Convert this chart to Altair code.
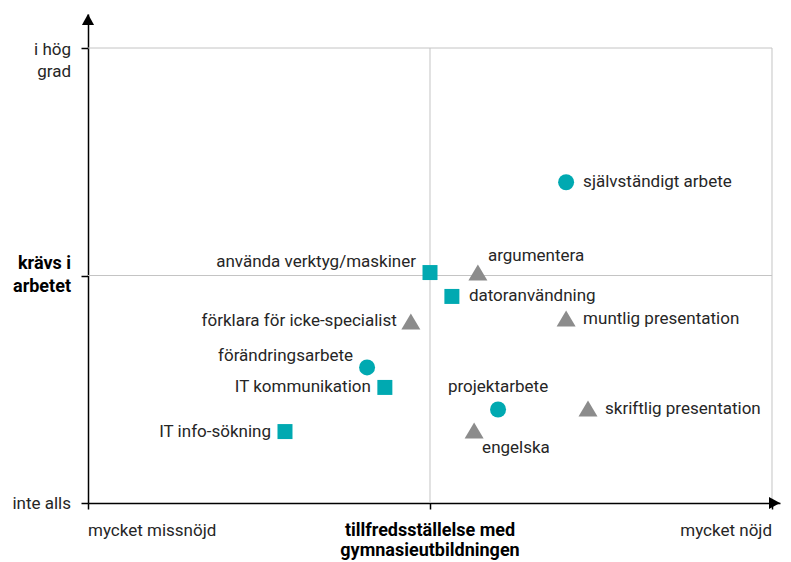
import altair as alt
import pandas as pd

# ---- data ----
skills = [
    "självständigt arbete", "använda verktyg/maskiner", "argumentera",
    "datoranvändning", "förklara för icke-specialist", "muntlig presentation",
    "förändringsarbete", "IT kommunikation", "projektarbete",
    "skriftlig presentation", "IT info-sökning", "engelska",
]
satisfaction = [0.398, 0.0, 0.14, 0.064, -0.056, 0.398, -0.184, -0.132, 0.199, 0.462, -0.424, 0.129]
required = [0.41, 0.013, 0.013, -0.092, -0.202, -0.189, -0.404, -0.492, -0.589, -0.585, -0.686, -0.681]
group = ["circle", "square", "triangle", "square", "triangle", "triangle",
         "circle", "square", "circle", "triangle", "square", "triangle"]
label_anchor = ["right", "upper-left", "upper-right", "right", "left", "right",
                "upper-left", "left", "above", "right", "left", "below-right"]

y_tick_values = [1, 0, -1]
y_tick_labels = [["i hög", "grad"], ["krävs i", "arbetet"], ["inte alls"]]
x_tick_values = [-1, 0, 1]
x_tick_labels = [["mycket missnöjd"], ["tillfredsställelse med", "gymnasieutbildningen"], ["mycket nöjd"]]

X_MIN, X_MAX = -1, 1.0234
Y_MIN, Y_MAX = -1, 1.1495

FONT = "Roboto"
FS = 17
FSB = 18
TXT = "#262626"
TEAL = "#00a9b1"
GRAY = "#8c8c8c"
TRIANGLE = "M0,-0.84L1,0.84L-1,0.84Z"

df = pd.DataFrame({"skill": skills, "x": satisfaction, "y": required,
                   "group": group, "anchor": label_anchor})

xscale = alt.Scale(domain=[X_MIN, X_MAX], nice=False, zero=False)
yscale = alt.Scale(domain=[Y_MIN, Y_MAX], nice=False, zero=False)

xaxis = alt.Axis(values=[-1, 0, 1], labels=False, title=None, grid=False,
                 domainColor="black", domainWidth=1.5, tickColor="black",
                 tickWidth=1.5, tickSize=6)
yaxis = alt.Axis(values=[-1, 0, 1], labels=False, title=None, grid=False,
                 domainColor="black", domainWidth=1.5, tickColor="black",
                 tickWidth=1.5, tickSize=7)

one = pd.DataFrame({"a": [0]})

# grid lines inside the box
grid_v = alt.Chart(pd.DataFrame({"g": [0, 1]})).mark_rule(color="#c4c4c4", strokeWidth=1).encode(
    x=alt.X("g:Q", scale=xscale, axis=xaxis),
    y=alt.Y(datum=-1, scale=yscale, axis=yaxis),
    y2=alt.datum(1),
)
grid_h = alt.Chart(pd.DataFrame({"g": [0, 1]})).mark_rule(color="#c4c4c4", strokeWidth=1).encode(
    y=alt.Y("g:Q", scale=yscale),
    x=alt.X(datum=-1, scale=xscale),
    x2=alt.datum(1),
)

# arrow heads
arrow_up = alt.Chart(one).mark_point(
    shape="M0,0L0.55,1L-0.55,1Z", filled=True, size=484, color="black", opacity=1
).encode(x=alt.X(datum=-1, scale=xscale), y=alt.Y(datum=Y_MAX, scale=yscale))
arrow_right = alt.Chart(one).mark_point(
    shape="M0,0L-1,-0.55L-1,0.55Z", filled=True, size=484, color="black", opacity=1
).encode(x=alt.X(datum=X_MAX, scale=xscale), y=alt.Y(datum=-1, scale=yscale))

# points, one layer per symbol
symbol_style = {
    "circle": ("circle", TEAL, 256),
    "square": ("square", TEAL, 225),
    "triangle": (TRIANGLE, GRAY, 361),
}
point_layers = []
for name, (shp, col, sz) in symbol_style.items():
    point_layers.append(
        alt.Chart(df).transform_filter(alt.datum.group == name).mark_point(
            shape=shp, color=col, size=sz, filled=True, opacity=1
        ).encode(x=alt.X("x:Q", scale=xscale), y=alt.Y("y:Q", scale=yscale))
    )

# point labels
anchor_style = {
    "right": ("left", 17, 0),
    "left": ("right", -14, 0),
    "upper-left": ("right", -14, -11),
    "upper-right": ("left", 10, -17),
    "above": ("center", 0, -22),
    "below-right": ("left", 8, 18),
}
label_layers = []
for name, (al, dx, dy) in anchor_style.items():
    label_layers.append(
        alt.Chart(df).transform_filter(alt.datum.anchor == name).mark_text(
            align=al, baseline="middle", dx=dx, dy=dy, font=FONT, fontSize=FS, color=TXT
        ).encode(x=alt.X("x:Q", scale=xscale), y=alt.Y("y:Q", scale=yscale), text="skill:N")
    )

# axis labels (y)
ydf = pd.DataFrame({"v": y_tick_values, "t": y_tick_labels})
ylab_top = alt.Chart(ydf).transform_filter(alt.datum.v == 1).mark_text(
    align="right", baseline="middle", dx=-17, dy=2, lineHeight=22, font=FONT, fontSize=FS, color=TXT
).encode(x=alt.X(datum=-1, scale=xscale), y=alt.Y("v:Q", scale=yscale), text="t")
ylab_mid = alt.Chart(ydf).transform_filter(alt.datum.v == 0).mark_text(
    align="right", baseline="middle", dx=-17, dy=-12, lineHeight=23, font=FONT, fontSize=FSB,
    fontWeight="bold", color="black"
).encode(x=alt.X(datum=-1, scale=xscale), y=alt.Y("v:Q", scale=yscale), text="t")
ylab_bot = alt.Chart(ydf).transform_filter(alt.datum.v == -1).mark_text(
    align="right", baseline="middle", dx=-17, dy=1, font=FONT, fontSize=FS, color=TXT
).encode(x=alt.X(datum=-1, scale=xscale), y=alt.Y("v:Q", scale=yscale), text="t")

# axis labels (x)
xdf = pd.DataFrame({"v": x_tick_values, "t": x_tick_labels})
xlab_left = alt.Chart(xdf).transform_filter(alt.datum.v == -1).mark_text(
    align="left", baseline="middle", dy=28, font=FONT, fontSize=FS, color=TXT
).encode(x=alt.X("v:Q", scale=xscale), y=alt.Y(datum=-1, scale=yscale), text="t")
xlab_mid = alt.Chart(xdf).transform_filter(alt.datum.v == 0).mark_text(
    align="center", baseline="middle", dy=28, lineHeight=20, font=FONT, fontSize=FSB,
    fontWeight="bold", color="black"
).encode(x=alt.X("v:Q", scale=xscale), y=alt.Y(datum=-1, scale=yscale), text="t")
xlab_right = alt.Chart(xdf).transform_filter(alt.datum.v == 1).mark_text(
    align="right", baseline="middle", dy=28, font=FONT, fontSize=FS, color=TXT
).encode(x=alt.X("v:Q", scale=xscale), y=alt.Y(datum=-1, scale=yscale), text="t")

chart = alt.layer(
    grid_v, grid_h, arrow_up, arrow_right, *point_layers, *label_layers,
    ylab_top, ylab_mid, ylab_bot, xlab_left, xlab_mid, xlab_right,
).properties(
    width=692, height=489,
    autosize=alt.AutoSizeParams(type="none"),
    padding={"left": 80, "top": 6, "right": 3, "bottom": 59},
).configure_view(stroke=None)

chart.save("out.html", embed_options={"renderer": "svg", "actions": False})
